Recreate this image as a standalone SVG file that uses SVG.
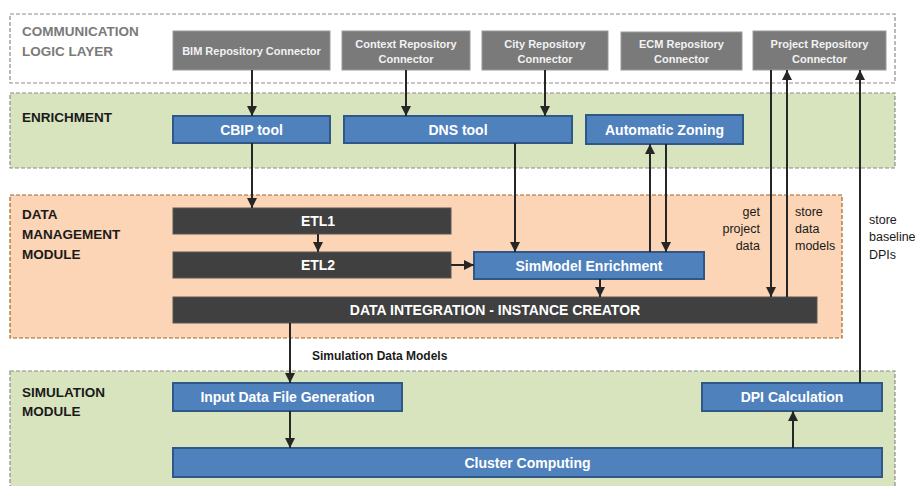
<svg xmlns="http://www.w3.org/2000/svg" width="920" height="486" viewBox="0 0 920 486">
<defs>
<marker id="ah" viewBox="0 0 10 10" refX="10" refY="5" markerWidth="10" markerHeight="10" markerUnits="userSpaceOnUse" orient="auto">
<path d="M0,0 L10,5 L0,10 z" fill="#262626"/>
</marker>
<style>
.layer{stroke-width:1.2;stroke-dasharray:4 2}
.title{font-family:"Liberation Sans",Arial,sans-serif;font-weight:bold;font-size:13.5px;fill:#1a1a1a}
.gray{fill:#7a7a7a;stroke:#9a9a9a;stroke-width:1}
.gtxt{font-family:"Liberation Sans",Arial,sans-serif;font-weight:bold;font-size:11px;fill:#f2f2f2;text-anchor:middle}
.blue{fill:#4f81bd;stroke:#2f5788;stroke-width:2}
.dark{fill:#404040;stroke:#595959;stroke-width:1}
.wtxt{font-family:"Liberation Sans",Arial,sans-serif;font-weight:bold;font-size:14px;fill:#ffffff;text-anchor:middle}
.lbl{font-family:"Liberation Sans",Arial,sans-serif;font-size:12.5px;fill:#1a1a1a}
.conn line{stroke:#262626;stroke-width:2;fill:none}
.arr{marker-end:url(#ah)}
</style>
</defs>
<rect width="920" height="486" fill="#ffffff"/>

<g id="layer-communication">
<rect class="layer" x="10" y="14" width="885" height="69" fill="#ffffff" stroke="#8c8c8c"/>
<text class="title" x="22" y="36" style="fill:#7a7a7a">COMMUNICATION</text>
<text class="title" x="22" y="56" style="fill:#7a7a7a">LOGIC LAYER</text>
</g>
<g id="layer-enrichment">
<rect class="layer" x="10" y="93" width="885" height="75" fill="#d8e4bd" stroke="#8c8c8c"/>
<text class="title" x="22" y="122">ENRICHMENT</text>
</g>
<g id="layer-data">
<rect class="layer" x="10" y="195" width="832" height="143" fill="#fbd5b5" stroke="#a0662e"/>
<text class="title" x="22" y="219">DATA</text>
<text class="title" x="22" y="239">MANAGEMENT</text>
<text class="title" x="22" y="259">MODULE</text>
</g>
<g id="layer-simulation">
<rect class="layer" x="10" y="371" width="885" height="125" fill="#d8e4bd" stroke="#8c8c8c"/>
<text class="title" x="22" y="397">SIMULATION</text>
<text class="title" x="22" y="416">MODULE</text>
</g>

<g id="bim-connector">
<rect class="gray" x="173" y="31" width="157" height="39"/>
<text class="gtxt" x="251.5" y="55">BIM Repository Connector</text>
</g>
<g id="context-connector">
<rect class="gray" x="342" y="31" width="128" height="39"/>
<text class="gtxt" x="406" y="48">Context Repository</text>
<text class="gtxt" x="406" y="63">Connector</text>
</g>
<g id="city-connector">
<rect class="gray" x="482" y="31" width="126" height="39"/>
<text class="gtxt" x="545" y="48">City Repository</text>
<text class="gtxt" x="545" y="63">Connector</text>
</g>
<g id="ecm-connector">
<rect class="gray" x="621" y="32" width="121" height="38"/>
<text class="gtxt" x="681.5" y="48">ECM Repository</text>
<text class="gtxt" x="681.5" y="63">Connector</text>
</g>
<g id="project-connector">
<rect class="gray" x="753" y="31" width="133" height="39"/>
<text class="gtxt" x="819.5" y="48">Project Repository</text>
<text class="gtxt" x="819.5" y="63">Connector</text>
</g>

<g id="cbip-tool">
<rect class="blue" x="173" y="116" width="157" height="27"/>
<text class="wtxt" x="251.5" y="134.5">CBIP tool</text>
</g>
<g id="dns-tool">
<rect class="blue" x="344" y="116" width="228" height="27"/>
<text class="wtxt" x="458" y="134.5">DNS tool</text>
</g>
<g id="automatic-zoning">
<rect class="blue" x="586" y="115" width="157" height="29"/>
<text class="wtxt" x="664.5" y="134.5">Automatic Zoning</text>
</g>

<g id="etl1">
<rect class="dark" x="173" y="208" width="278" height="26"/>
<text class="wtxt" x="318" y="226">ETL1</text>
</g>
<g id="etl2">
<rect class="dark" x="173" y="252" width="278" height="26"/>
<text class="wtxt" x="318" y="270">ETL2</text>
</g>
<g id="simmodel-enrichment">
<rect class="blue" x="474" y="252" width="230" height="27"/>
<text class="wtxt" x="589" y="270.5">SimModel Enrichment</text>
</g>
<g id="data-integration">
<rect class="dark" x="173" y="297" width="644" height="26"/>
<text class="wtxt" x="495" y="315">DATA INTEGRATION - INSTANCE CREATOR</text>
</g>

<g id="input-data-file-generation">
<rect class="blue" x="173" y="383" width="229" height="28"/>
<text class="wtxt" x="287.5" y="402">Input Data File Generation</text>
</g>
<g id="dpi-calculation">
<rect class="blue" x="702" y="383" width="180" height="28"/>
<text class="wtxt" x="792" y="402">DPI Calculation</text>
</g>
<g id="cluster-computing">
<rect class="blue" x="173" y="448" width="709" height="29"/>
<text class="wtxt" x="527.5" y="467.5">Cluster Computing</text>
</g>

<g id="connectors" class="conn">
<line class="arr" x1="252" y1="70" x2="252" y2="116"/>
<line class="arr" x1="406" y1="70" x2="406" y2="116"/>
<line class="arr" x1="545" y1="70" x2="545" y2="116"/>
<line class="arr" x1="252" y1="143" x2="252" y2="208"/>
<line class="arr" x1="515" y1="143" x2="515" y2="252"/>
<line class="arr" x1="650" y1="252" x2="650" y2="144"/>
<line class="arr" x1="666" y1="144" x2="666" y2="252"/>
<line class="arr" x1="318" y1="234" x2="318" y2="252"/>
<line class="arr" x1="451" y1="265" x2="474" y2="265"/>
<line class="arr" x1="600" y1="279" x2="600" y2="297"/>
<line class="arr" x1="771" y1="70" x2="771" y2="297"/>
<line class="arr" x1="787" y1="297" x2="787" y2="70"/>
<line class="arr" x1="860" y1="383" x2="860" y2="70"/>
<line class="arr" x1="290" y1="323" x2="290" y2="383"/>
<line class="arr" x1="290" y1="411" x2="290" y2="448"/>
<line class="arr" x1="793" y1="448" x2="793" y2="411"/>
</g>

<g id="labels">
<text class="lbl" x="760" y="216" text-anchor="end">get</text>
<text class="lbl" x="760" y="233" text-anchor="end">project</text>
<text class="lbl" x="760" y="250" text-anchor="end">data</text>
<text class="lbl" x="795" y="216">store</text>
<text class="lbl" x="795" y="233">data</text>
<text class="lbl" x="795" y="250">models</text>
<text class="lbl" x="869" y="224">store</text>
<text class="lbl" x="869" y="241">baseline</text>
<text class="lbl" x="869" y="259">DPIs</text>
<text class="lbl" x="312" y="360" style="font-weight:bold;font-size:12px">Simulation Data Models</text>
</g>
</svg>
